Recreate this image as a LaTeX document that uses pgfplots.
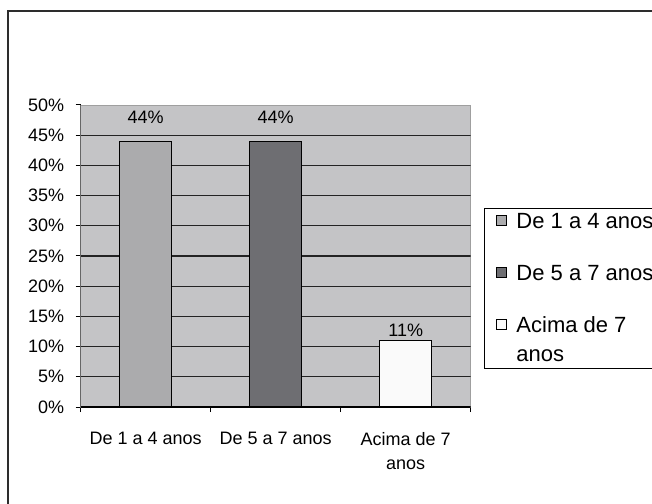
\documentclass[border=0pt]{standalone}
\usepackage{pgfplots}
\pgfplotsset{compat=1.18}
\usepackage{fontspec}
\setmainfont{Liberation Sans}
\definecolor{bgc}{RGB}{196,196,198}
\definecolor{bA}{RGB}{171,171,173}
\definecolor{bB}{RGB}{110,110,114}
\definecolor{bC}{RGB}{250,250,250}
\definecolor{gridc}{RGB}{35,35,35}
\definecolor{framec}{RGB}{45,45,45}
\pgfplotsset{
  legsqA/.style={legend image code/.code={\draw[##1, line width=0.9bp] (0bp,3bp) rectangle (10bp,13bp); \path (17bp,0bp);}},
  legsqB/.style={legend image code/.code={\draw[##1, line width=0.9bp] (0bp,32bp) rectangle (10bp,42bp); \path (17bp,0bp);}},
}
\begin{document}
\begin{tikzpicture}
\begin{axis}[
  at={(0,0)}, anchor=south west,
  scale only axis, width=390bp, height=302bp,
  xmin=-0.5, xmax=2.5, ymin=0, ymax=50,
  axis background/.style={fill=bgc},
  axis line style={draw=gray!75, line width=0.8bp},
  /pgf/number format/assume math mode=true,
  ytick={0,5,...,50},
  yticklabel={\pgfmathprintnumber{\tick}\%},
  ytick pos=left, xtick pos=bottom,
  tick align=outside,
  major tick length=5bp, minor tick length=5bp,
  tick style={draw=black, line width=1bp},
  xtick={0,1,2},
  xticklabels={De 1 a 4 anos, De 5 a 7 anos, {Acima de 7\\anos}},
  major x tick style={draw=none},
  minor xtick={-0.5,0.5,1.5,2.5},
  xticklabel style={align=center, font=\fontsize{18bp}{24bp}\selectfont, yshift=-17bp},
  yticklabel style={font=\fontsize{18bp}{22bp}\selectfont, xshift=-8bp},
  nodes near coords={\pgfmathprintnumber{\pgfplotspointmeta}\%},
  every node near coord/.append style={font=\fontsize{18bp}{22bp}\selectfont, black},
  legsqA,
  legend style={at={(1.034,0.658)}, anchor=north west, draw=black, line width=1bp,
    fill=white, font=\fontsize{22bp}{29bp}\selectfont,
    cells={anchor=base west, align=left}, row sep=31bp, inner xsep=12bp, inner ysep=3bp},
]
\draw[gridc, line width=1.2bp] (axis cs:-0.5,5) -- (axis cs:2.5,5);
\draw[gridc, line width=1.2bp] (axis cs:-0.5,10) -- (axis cs:2.5,10);
\draw[gridc, line width=1.2bp] (axis cs:-0.5,15) -- (axis cs:2.5,15);
\draw[gridc, line width=1.2bp] (axis cs:-0.5,20) -- (axis cs:2.5,20);
\draw[gridc, line width=1.2bp] (axis cs:-0.5,25) -- (axis cs:2.5,25);
\draw[gridc, line width=1.2bp] (axis cs:-0.5,30) -- (axis cs:2.5,30);
\draw[gridc, line width=1.2bp] (axis cs:-0.5,35) -- (axis cs:2.5,35);
\draw[gridc, line width=1.2bp] (axis cs:-0.5,40) -- (axis cs:2.5,40);
\draw[gridc, line width=1.2bp] (axis cs:-0.5,45) -- (axis cs:2.5,45);
\addplot[ybar, bar width=0.4, bar shift=0pt, draw=black, line width=1.1bp, fill=bA,
  every node near coord/.append style={yshift=14bp}]
  coordinates {(0,44)};
\addlegendentry{De 1 a 4 anos}
\addplot[ybar, bar width=0.4, bar shift=0pt, draw=black, line width=1.1bp, fill=bB,
  every node near coord/.append style={yshift=14bp}]
  coordinates {(1,44)};
\addlegendentry{De 5 a 7 anos}
\addplot[ybar, bar width=0.4, bar shift=0pt, draw=black, line width=1.1bp, fill=bC, legsqB]
  coordinates {(2,11)};
\addlegendentry{Acima de 7\\anos}
\draw[black, line width=1.2bp] (rel axis cs:0,1) -- (rel axis cs:0,0) -- (rel axis cs:1,0);
\end{axis}
\draw[line width=1.5bp, framec] (-72.7bp,-200bp) -- (-72.7bp,396bp) -- (700bp,396bp);
\pgfresetboundingbox
\path[use as bounding box] (-80.7bp,-97bp) rectangle (571.3bp,407bp);
\end{tikzpicture}
\end{document}
